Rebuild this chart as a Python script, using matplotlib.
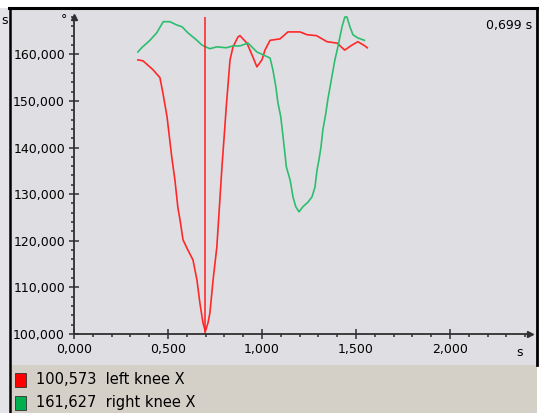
import numpy as np
import matplotlib
matplotlib.use('Agg')
import matplotlib.pyplot as plt
from matplotlib.ticker import MultipleLocator, FuncFormatter
from matplotlib.patches import Rectangle

# time [s], value
left_t = [0.34, 0.367, 0.42, 0.457, 0.473, 0.495, 0.52, 0.537, 0.553, 0.564, 0.58, 0.606,
          0.633, 0.654, 0.67, 0.686, 0.699, 0.713, 0.723, 0.74, 0.76, 0.777, 0.787, 0.80,
          0.81, 0.83, 0.846, 0.872, 0.883, 0.92, 0.952, 0.973, 1.0, 1.016, 1.043, 1.096,
          1.138, 1.202, 1.24, 1.29, 1.346, 1.40, 1.44, 1.48, 1.51, 1.548, 1.56]
left_v = [158.8, 158.6, 156.7, 155.0, 151.7, 146.6, 138.0, 133.0, 127.0, 124.5, 120.2, 118.0,
          115.9, 111.6, 106.6, 102.4, 100.573, 102.4, 104.5, 111.6, 118.7, 129.4, 135.8, 143.0,
          148.7, 158.8, 161.6, 163.7, 164.0, 162.4, 159.4, 157.3, 158.8, 160.9, 163.0, 163.3,
          164.8, 164.8, 164.2, 164.0, 162.7, 162.4, 160.9, 162.0, 162.7, 161.8, 161.4]

right_t = [0.34, 0.36, 0.404, 0.44, 0.475, 0.51, 0.546, 0.575, 0.606, 0.654, 0.68, 0.699,
           0.723, 0.76, 0.81, 0.846, 0.883, 0.926, 0.973, 1.005, 1.043, 1.058, 1.074, 1.085,
           1.1, 1.11, 1.12, 1.13, 1.15, 1.165, 1.18, 1.197, 1.218, 1.245, 1.266, 1.282,
           1.293, 1.303, 1.314, 1.324, 1.34, 1.35, 1.372, 1.388, 1.404, 1.426, 1.441, 1.452,
           1.468, 1.484, 1.51, 1.545]
right_v = [160.5, 161.4, 163.0, 164.6, 167.0, 167.0, 166.3, 165.9, 164.6, 163.0, 162.0, 161.627,
           161.2, 161.6, 161.4, 161.8, 161.8, 162.4, 160.5, 159.9, 159.2, 156.7, 153.0, 149.6,
           146.6, 143.1, 139.5, 135.8, 133.0, 129.4, 127.3, 126.2, 127.3, 128.3, 129.4, 131.5,
           135.2, 137.3, 140.1, 143.8, 147.4, 150.2, 155.2, 158.8, 161.6, 165.9, 168.0, 168.0,
           165.9, 164.2, 163.5, 163.0]

cursor_t = 0.699
series_names = ['left knee X', 'right knee X']
series_vals = ['100,573', '161,627']
series_colors = ['#ff2828', '#2dbd6e']
legend_colors = ['#ff0000', '#00b050']

W, H = 540, 413
fig = plt.figure(figsize=(W / 100, H / 100), dpi=100)
fig.patch.set_facecolor('white')

def fx(px):
    return px / W

def fy(py):
    return 1 - py / H

# panel backgrounds (behind the axes)
fig.patches.append(Rectangle((0, fy(413)), fx(10), fy(8) - fy(413), transform=fig.transFigure,
                             facecolor='#e4e4e8', edgecolor='none', zorder=-5))
fig.patches.append(Rectangle((fx(10), fy(365)), fx(527), fy(8) - fy(365), transform=fig.transFigure,
                             facecolor='#dfdfe3', edgecolor='none', zorder=-5))
fig.patches.append(Rectangle((fx(10), 0), fx(527), fy(365), transform=fig.transFigure,
                             facecolor='#d4d0c8', edgecolor='none', zorder=-5))
# black frame lines
fig.add_artist(plt.Line2D([fx(9), fx(537)], [fy(8), fy(8)], transform=fig.transFigure, color='black', lw=2.2))
fig.add_artist(plt.Line2D([fx(10), fx(10)], [fy(8), 0], transform=fig.transFigure, color='black', lw=1.8))
fig.add_artist(plt.Line2D([fx(537), fx(537)], [fy(8), fy(365)], transform=fig.transFigure, color='black', lw=2))

ax = fig.add_axes([fx(74), fy(334), fx(530) - fx(74), fy(17) - fy(334)])
ax.set_facecolor('none')
ax.set_xlim(0, 2.426)
ax.set_ylim(100, 168)

ax.plot(left_t, left_v, color=series_colors[0], lw=1.2, clip_on=False)
ax.plot(right_t, right_v, color=series_colors[1], lw=1.2, clip_on=False)
ax.axvline(cursor_t, ymin=0, ymax=1, color='#ff2020', lw=1.1)

for s in ['top', 'right']:
    ax.spines[s].set_visible(False)
for s in ['left', 'bottom']:
    ax.spines[s].set_color('#303030')
    ax.spines[s].set_linewidth(1.3)

# arrow heads
ax.plot(1, 0, '>', color='#303030', ms=4, transform=ax.transAxes, clip_on=False)
ax.plot(0, 1, '^', color='#303030', ms=4, transform=ax.transAxes, clip_on=False)

fmt = FuncFormatter(lambda v, p: f'{v:.3f}'.replace('.', ','))
ax.xaxis.set_major_locator(MultipleLocator(0.5))
ax.xaxis.set_minor_locator(MultipleLocator(0.1))
ax.yaxis.set_major_locator(MultipleLocator(10))
ax.yaxis.set_minor_locator(MultipleLocator(2))
ax.set_xticks([0, 0.5, 1.0, 1.5, 2.0])
ax.set_yticks([100, 110, 120, 130, 140, 150, 160])
ax.xaxis.set_major_formatter(fmt)
ax.yaxis.set_major_formatter(fmt)
ax.tick_params(which='major', direction='inout', length=7, width=1.1, color='#303030',
               labelsize=9, labelcolor='black', pad=3)
ax.tick_params(which='minor', direction='out', length=2, width=1.1, color='#303030')

# unit labels and cursor readout
fig.text(fx(520), fy(352), 's', fontsize=9, ha='center', va='center')
fig.text(fx(1), fy(20), 's', fontsize=9, ha='left', va='center')
fig.text(fx(64), fy(20), '°', fontsize=9, ha='center', va='center')
fig.text(fx(532), fy(26), f'{cursor_t:.3f} s'.replace('.', ','), fontsize=9, ha='right', va='center')

# legend rows
for i, (nm, val, c) in enumerate(zip(series_names, series_vals, legend_colors)):
    yc = 380 + i * 23
    fig.patches.append(Rectangle((fx(15), fy(yc + 7)), fx(11), fy(yc - 7) - fy(yc + 7),
                                 transform=fig.transFigure, facecolor=c, edgecolor='#303030', lw=0.6))
    fig.text(fx(36), fy(yc), f'{val}  {nm}', fontsize=10.5, ha='left', va='center')

fig.savefig('out.png', dpi=100)
